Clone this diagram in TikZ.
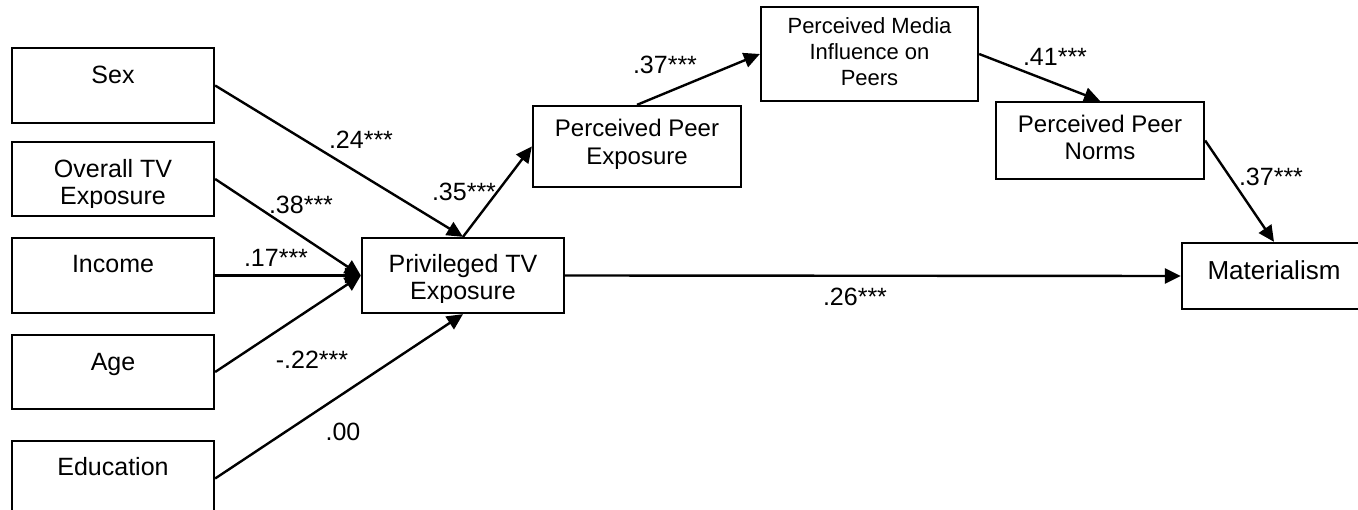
\documentclass[tikz,border=0pt]{standalone}
\usepackage{fontspec}
\setmainfont{Liberation Sans}
\usetikzlibrary{arrows.meta}
\begin{document}
\begin{tikzpicture}[x=1pt,y=-1pt,
  box/.style={draw, line width=2.3pt, inner sep=0pt},
  txt/.style={anchor=north, inner sep=0pt, align=center,
    execute at begin node={\rule{0pt}{20pt}}},
  big/.style={font=\fontsize{25}{27}\selectfont},
  mid/.style={font=\fontsize{24}{28}\selectfont},
  small/.style={font=\fontsize{22}{26}\selectfont},
  link/.style={line width=2.4pt, -{Triangle[length=16pt,width=15pt]}},
  coef/.style={font=\fontsize{25}{27}\selectfont, inner sep=0pt}
]
\useasboundingbox (0,0) rectangle (1358,510);
\fill[white] (0,0) rectangle (1358,510);
\clip (0,0) rectangle (1358,510);

% predictor boxes
\node[box, minimum width=202pt, minimum height=75pt] (sex) at (113,85.5) {};
\node[box, minimum width=202pt, minimum height=74pt] (ov)  at (113,179) {};
\node[box, minimum width=202pt, minimum height=75pt] (inc) at (113,275.5) {};
\node[box, minimum width=202pt, minimum height=74pt] (age) at (113,372) {};
\node[box, minimum width=202pt, minimum height=75pt] (edu) at (113,478.5) {};

% mediators and outcome
\node[box, minimum width=202pt, minimum height=75pt] (priv) at (463,275.5) {};
\node[box, minimum width=208pt, minimum height=81pt] (ppe)  at (637,146.5) {};
\node[box, minimum width=217pt, minimum height=94pt] (pmi)  at (869.5,54) {};
\node[box, minimum width=208pt, minimum height=77pt] (ppn)  at (1100,140.5) {};
\node[box, minimum width=184pt, minimum height=66pt] (mat)  at (1274,276) {};

% box texts (baseline of first line sits 20pt below the anchor)
\node[txt, big] (tsex) at (113,63.5) {Sex};
\begin{scope}
  \clip (12,142) rectangle (214,207.5);
  \node[txt, big] (tov) at (113,159) {Overall TV\\Exposure};
\end{scope}
\node[txt, big] (tinc) at (113,252.5) {Income};
\node[txt, big] (tage) at (113,350) {Age};
\node[txt, big] (tedu) at (113,455) {Education};
\begin{scope}
  \clip (362,238) rectangle (564,302.5);
  \node[txt, big] (tpriv) at (463,254.5) {Privileged TV\\Exposure};
\end{scope}
\node[txt, mid] (tppe) at (637,118.5) {Perceived Peer\\Exposure};
\node[txt, small] (tpmi) at (869.5,17.7) {Perceived Media\\Influence on\\Peers};
\node[txt, font=\fontsize{24}{26.7}\selectfont] (tppn) at (1100,115) {Perceived Peer\\Norms};
\node[txt, font=\fontsize{26}{28}\selectfont] (tmat) at (1274,259.3) {Materialism};

% paths
\draw[link] (sex.east) -- (priv.north);
\draw[link] (ov.east)  -- (priv.west);
\draw[link] (inc.east) -- (priv.west);
\draw[link] (age.east) -- (priv.west);
\draw[link] (edu.east) -- (priv.south);
\draw[link] (priv.north) -- (ppe.west);
\draw[link] (ppe.north) -- (pmi.west);
\draw[link] (pmi.east) -- (ppn.north);
\draw[link] (ppn.east) -- (mat.north);
\draw[link] (priv.east) -- (mat.west);

% path coefficients
\node[coef] (c1) at (361,140) {.24***};
\node[coef] (c2) at (301,205) {.38***};
\node[coef] (c3) at (276,258) {.17***};
\node[coef] (c4) at (312,360) {-.22***};
\node[coef] (c5) at (343,432) {.00};
\node[coef] (c6) at (464,192) {.35***};
\node[coef] (c7) at (665,65) {.37***};
\node[coef] (c8) at (1055,57) {.41***};
\node[coef] (c9) at (1271,177) {.37***};
\node[coef] (c10) at (855,297) {.26***};
\end{tikzpicture}
\end{document}
